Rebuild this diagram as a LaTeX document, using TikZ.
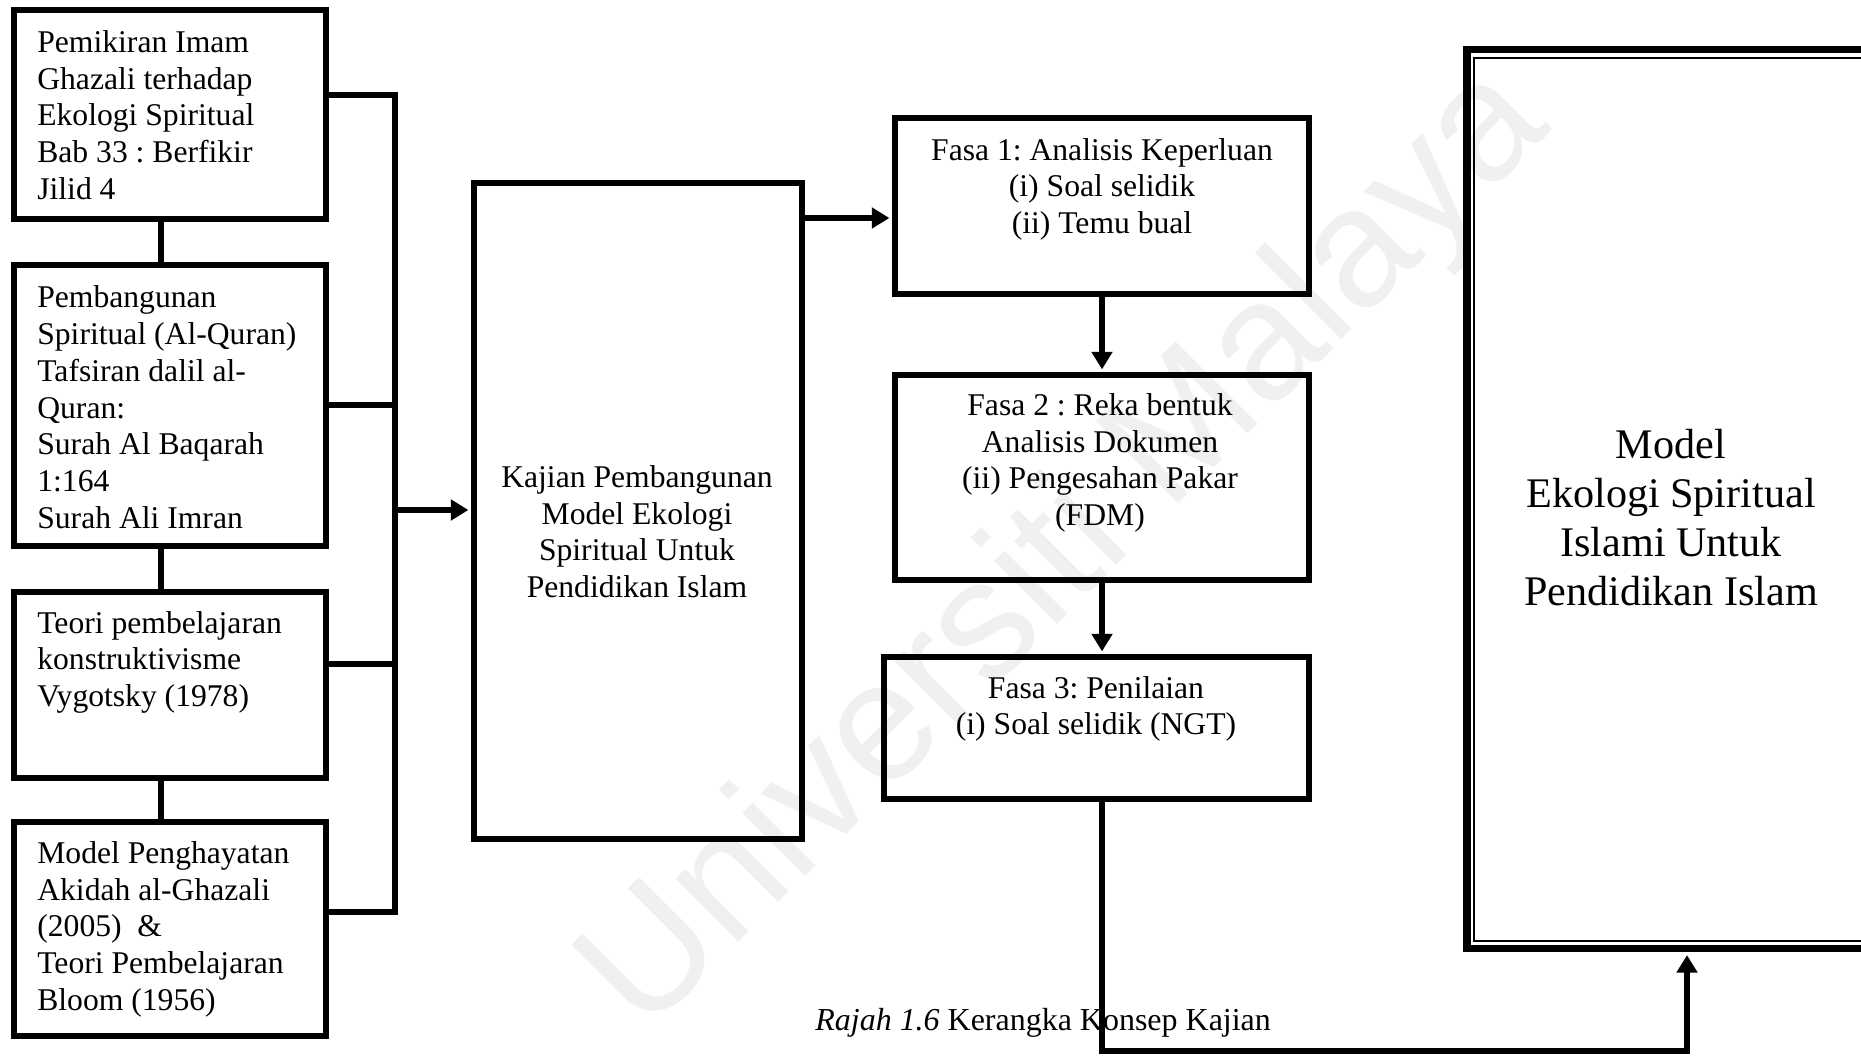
\documentclass[tikz,border=0pt]{standalone}
\usepackage{fontspec}
\setmainfont{Liberation Serif}
\newfontfamily\wmfont{Liberation Sans}
\usetikzlibrary{arrows.meta,fit}
\frenchspacing
\newcommand{\msz}{\fontsize{18pt}{20.9pt}\selectfont}
\newcommand{\bsz}{\fontsize{24pt}{27.8pt}\selectfont}
\newcommand{\csz}{\fontsize{18.2pt}{21pt}\selectfont}
\begin{document}
\begin{tikzpicture}[x=0.02cm,y=-0.02cm,
  box/.style={draw, line width=3.4pt, inner sep=0pt, rectangle},
  ltext/.style={anchor=base west, align=left, font=\msz, inner sep=0pt},
  ctext/.style={anchor=base, align=center, font=\msz, inner sep=0pt},
  conn/.style={line width=3.2pt},
  arr/.style={conn, -{Triangle[width=11.5pt,length=10pt]}, shorten >=1.5pt},
]
\useasboundingbox (0,0) rectangle (1861,1057);
\clip (0,0) rectangle (1861,1057);
% watermark
\node[rotate=45, font=\wmfont\fontsize{96pt}{96pt}\selectfont, text=black!6, inner sep=0pt] (wm) at (1068,552) {Universiti Malaya};

% left boxes
\node[box, fit={(14,10) (326,219)}] (b1) {};
\node[box, fit={(14,265) (326,546)}] (b2) {};
\node[box, fit={(14,592) (326,778)}] (b3) {};
\node[box, fit={(14,822) (326,1036)}] (b4) {};
% central box
\node[box, fit={(474,183) (802,839)}] (c) {};
% fasa boxes
\node[box, fit={(895,118) (1309,294)}] (f1) {};
\node[box, fit={(895,375) (1309,580)}] (f2) {};
\node[box, fit={(884,657) (1309,799)}] (f3) {};
% right box (double border)
\node[draw, line width=4.5pt, inner sep=0pt, fit={(1467,49.5) (1907,948.5)}] (rout) {};
\node[draw, line width=1.1pt, inner sep=0pt, fit={(1474,58) (1907,941)}] (rin) {};

% texts (anchored at the baseline of the last line)
\node[ltext] (t1) at (37,199.4) {Pemikiran Imam\\Ghazali terhadap\\Ekologi Spiritual\\Bab 33 : Berfikir\\Jilid 4};
\node[ltext] (t2) at (37,528.2) {Pembangunan\\Spiritual (Al-Quran)\\Tafsiran dalil al-\\Quran:\\Surah Al Baqarah\\1:164\\Surah Ali Imran};
\node[ltext] (t3) at (37,706.7) {Teori pembelajaran\\konstruktivisme\\Vygotsky (1978)};
\node[ltext] (t4) at (37,1010.4) {Model Penghayatan\\Akidah al-Ghazali\\(2005)\ \ \&\\Teori Pembelajaran\\Bloom (1956)};
\node[ctext] (tc) at (637,597.6) {Kajian Pembangunan\\Model Ekologi\\Spiritual Untuk\\Pendidikan Islam};
\node[ctext] (tf1) at (1102,233.7) {Fasa 1: Analisis Keperluan\\(i) Soal selidik\\(ii) Temu bual};
\node[ctext] (tf2) at (1100,525.6) {Fasa 2 : Reka bentuk\\Analisis Dokumen\\(ii) Pengesahan Pakar\\(FDM)};
\node[ctext] (tf3) at (1096,734.9) {Fasa 3: Penilaian\\(i) Soal selidik (NGT)};
\node[anchor=base, align=center, font=\bsz, inner sep=0pt] (tr) at (1671,605.1) {Model\\Ekologi Spiritual\\Islami Untuk\\Pendidikan Islam};
\node[anchor=base west, font=\csz, inner sep=0pt] (cap) at (815,1030) {\textit{Rajah 1.6} Kerangka Konsep Kajian};

% connectors
\coordinate (vx) at (161,0);
\draw[conn] (b1.south -| vx) -- (b2.north -| vx);
\draw[conn] (b2.south -| vx) -- (b3.north -| vx);
\draw[conn] (b3.south -| vx) -- (b4.north -| vx);
\coordinate (r1) at (395,95);
\coordinate (r2) at (395,405);
\coordinate (r3) at (395,664);
\coordinate (r4) at (395,912);
\coordinate (rm) at (395,510);
\draw[conn] (b1.east |- r1) -- (r1) -- (r4) -- (b4.east |- r4);
\draw[conn] (b2.east |- r2) -- (r2);
\draw[conn] (b3.east |- r3) -- (r3);
\draw[arr] (rm) -- (c.west |- rm);
\coordinate (ra) at (0,218);
\draw[arr] (c.east |- ra) -- (f1.west |- ra);
\draw[arr] (f1.south) -- (f2.north);
\draw[arr] (f2.south) -- (f2.south |- f3.north);
\coordinate (low) at (0,1051);
\draw[arr] (f3.south -| f2.south) -- (f2.south |- low) -- (rout.south |- low) -- (rout.south);
\end{tikzpicture}
\end{document}
